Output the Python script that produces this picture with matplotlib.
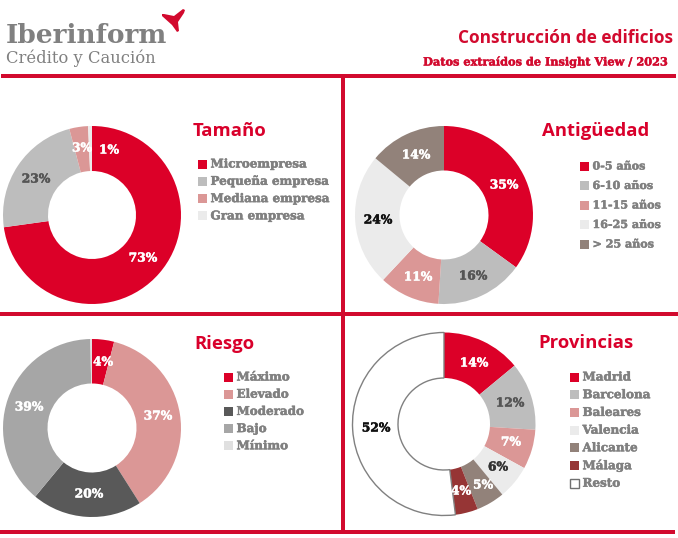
#!/usr/bin/env python3
import matplotlib
matplotlib.use("Agg")
import matplotlib.pyplot as plt
import matplotlib.patheffects as pe
from matplotlib.patches import Polygon, Rectangle

W, H = 678, 538
RED = "#d9002b"
LINE_RED = "#d20a2e"
GREY = "#808080"
SERIF = "DejaVu Serif"
SANS = "Open Sans"

# datos
tamano_labels = ["Microempresa", "Pequeña empresa", "Mediana empresa", "Gran empresa"]
tamano_values = [72.8, 23.1, 3.4, 0.7]
antiguedad_labels = ["0-5 años", "6-10 años", "11-15 años", "16-25 años", "> 25 años"]
antiguedad_values = [35, 16, 11, 24, 14]
riesgo_labels = ["Máximo", "Elevado", "Moderado", "Bajo", "Mínimo"]
riesgo_values = [4, 37, 20, 38.7, 0.3]
provincias_labels = ["Madrid", "Barcelona", "Baleares", "Valencia", "Alicante", "Málaga", "Resto"]
provincias_values = [14, 12, 7, 6, 5, 4, 52]

tamano_colors = ["#dc0028", "#bdbdbd", "#db9796", "#ebebeb"]
antiguedad_colors = ["#dc0028", "#bdbdbd", "#db9796", "#ebebeb", "#92827a"]
riesgo_colors = ["#dc0028", "#db9796", "#595959", "#a6a6a6", "#e0e0e0"]
provincias_colors = ["#dc0028", "#bdbdbd", "#db9796", "#ebebeb", "#92827a", "#963535", "#ffffff"]


def heavy(txt, col, lw=0.35):
    # engorda un poco la letra
    txt.set_path_effects([pe.withStroke(linewidth=lw, foreground=col)])


def donut(fig, ov, cx, cy, r, r_in, values, colors, text_colors, label_pos):
    ax = fig.add_axes([(cx - r) / W, 1 - (cy + r) / H, 2 * r / W, 2 * r / H])
    wedges, _ = ax.pie(values, colors=colors, startangle=90, counterclock=False,
                       radius=r, center=(0, 0), frame=False,
                       wedgeprops=dict(width=r - r_in, linewidth=0))
    ax.set_xlim(-r, r)
    ax.set_ylim(-r, r)
    for v, col, (x, y) in zip(values, text_colors, label_pos):
        t = ov.text(x, y, f"{round(v)}%", ha="center", va="center", family=SERIF,
                    fontweight="bold", fontsize=8.8, color=col, zorder=5)
        heavy(t, col)
    return wedges


def legend(ov, x, y0, step, labels, colors, outline_last=False, size=8.6):
    for i, (lab, col) in enumerate(zip(labels, colors)):
        y = y0 + i * step
        last = outline_last and i == len(labels) - 1
        ov.add_patch(Rectangle((x, y - 4.5), 9, 9, facecolor=col,
                               edgecolor="#707070" if last else "none",
                               linewidth=1 if last else 0))
        t = ov.text(x + 12.5, y, lab, family=SERIF, fontweight="bold", fontsize=size,
                    color=GREY, ha="left", va="center")
        heavy(t, GREY)


def main():
    fig = plt.figure(figsize=(W / 100, H / 100), dpi=100, facecolor="white")
    ov = fig.add_axes([0, 0, 1, 1], zorder=3)
    ov.set_xlim(0, W)
    ov.set_ylim(H, 0)
    ov.axis("off")
    ov.patch.set_alpha(0)

    # cabecera
    ov.text(6, 43, "Iberinform", family=SERIF, fontweight="bold", fontsize=19,
            color="#808080", ha="left", va="baseline")
    ov.text(6, 63, "Crédito y Caución", family=SERIF, fontsize=11.8,
            color="#808080", ha="left", va="baseline")
    ov.add_patch(Polygon([(162, 14), (164, 14), (174, 16), (183, 9), (185, 10), (184, 13),
                          (178, 22), (179, 31), (177, 32), (172, 25), (162, 16)],
                         facecolor=LINE_RED, edgecolor="none"))
    ov.text(673, 38, "Construcción de edificios", family=SANS, fontweight="bold",
            fontsize=12.45, color=LINE_RED, ha="right", va="center")
    t = ov.text(668, 62, "Datos extraídos de Insight View / 2023", family=SERIF,
                fontweight="bold", fontsize=8.15, color=LINE_RED, ha="right", va="center")
    heavy(t, LINE_RED, 0.3)

    # lineas rojas
    ov.add_patch(Rectangle((1, 74), 675, 4, color=LINE_RED, linewidth=0))
    ov.add_patch(Rectangle((0, 312), 678, 4, color=LINE_RED, linewidth=0))
    ov.add_patch(Rectangle((341, 78), 4, 452, color=LINE_RED, linewidth=0))
    ov.add_patch(Rectangle((0, 530), 675, 4, color=LINE_RED, linewidth=0))

    dark = "#555555"
    donut(fig, ov, 92, 215, 89, 44, tamano_values, tamano_colors,
          ["white", dark, "white", "white"],
          [(143, 258), (36, 179), (82, 148), (109, 150)])
    donut(fig, ov, 444, 215, 89, 44.5, antiguedad_values, antiguedad_colors,
          ["white", dark, "white", "#111111", "white"],
          [(504, 185), (473, 276), (418, 277), (378, 220), (416, 155)])
    donut(fig, ov, 92, 428, 89, 44.5, riesgo_values, riesgo_colors,
          ["white", "white", "white", "white"],
          [(103, 362), (158, 416), (89, 494), (29, 407)])
    wedges = donut(fig, ov, 444, 424, 91.5, 46, provincias_values, provincias_colors,
                   ["white", dark, "white", "#333333", "white", "white", "#111111"],
                   [(474, 363), (510, 403), (511, 442), (498, 467), (483, 485), (461, 491), (376, 428)])
    wedges[-1].set_edgecolor("#808080")
    wedges[-1].set_linewidth(1)

    ov.text(193, 131, "Tamaño", family=SANS, fontweight="bold", fontsize=13.3, color=RED, va="center")
    ov.text(649, 131, "Antigüedad", family=SANS, fontweight="bold", fontsize=13.3, color=RED, va="center", ha="right")
    ov.text(194, 344, "Riesgo", family=SANS, fontweight="bold", fontsize=13.3, color=RED, va="center")
    ov.text(634, 343, "Provincias", family=SANS, fontweight="bold", fontsize=13.3, color=RED, va="center", ha="right")

    legend(ov, 198, 164, 17.3, tamano_labels, tamano_colors)
    legend(ov, 580, 166, 19.5, antiguedad_labels, antiguedad_colors, size=8.0)
    legend(ov, 224, 377, 17.2, riesgo_labels, riesgo_colors)
    legend(ov, 570, 377, 17.7, provincias_labels, provincias_colors, outline_last=True)

    fig.savefig("out.png", dpi=100, facecolor="white")
    plt.close(fig)


if __name__ == "__main__":
    main()
